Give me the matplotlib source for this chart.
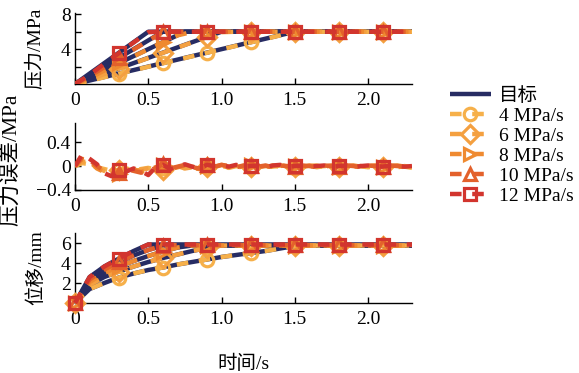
import numpy as np
import matplotlib
matplotlib.use("Agg")
import matplotlib.pyplot as plt

plt.rcParams['font.family'] = ['Liberation Serif', 'Noto Sans CJK SC']
plt.rcParams['font.size'] = 14

# ---------------- data ----------------
labels = ['4 MPa/s', '6 MPa/s', '8 MPa/s', '10 MPa/s', '12 MPa/s']
colors = ['#F6B04A', '#F4A040', '#EF8A30', '#E3612B', '#D2352E']
markers = ['o', 'D', '>', '^', 's']
navy = '#272C63'

t_coarse = np.round(np.arange(0, 2.31, 0.1), 2)   # 24 samples
t_fine = np.round(np.arange(0, 2.301, 0.05), 2)   # 47 samples

# target pressure (ramp then hold) breakpoints
target_t = [[0, 1.5, 2.3], [0, 1.0, 2.3], [0, 0.75, 2.3], [0, 0.6, 2.3], [0, 0.5, 2.3]]
target_p = [0, 6, 6]

# measured pressure, MPa
p4 = [0, 0.35, 0.78, 1.18, 1.58, 1.98, 2.38, 2.78, 3.18, 3.58, 3.98, 4.38,
      4.78, 5.18, 5.58, 5.95, 6.0, 6.0, 6.0, 6.0, 6.0, 6.0, 6.0, 6.0]
p6 = [0, 0.52, 1.15, 1.77, 2.38, 2.98, 3.58, 4.18, 4.78, 5.38, 5.95, 6.0,
      6.0, 6.0, 6.0, 6.0, 6.0, 6.0, 6.0, 6.0, 6.0, 6.0, 6.0, 6.0]
p8 = [0, 0.70, 1.55, 2.36, 3.17, 3.98, 4.78, 5.58, 5.98, 6.0, 6.0, 6.0,
      6.0, 6.0, 6.0, 6.0, 6.0, 6.0, 6.0, 6.0, 6.0, 6.0, 6.0, 6.0]
p10 = [0, 0.90, 1.93, 2.95, 3.96, 4.97, 5.96, 6.0, 6.0, 6.0, 6.0, 6.0,
       6.0, 6.0, 6.0, 6.0, 6.0, 6.0, 6.0, 6.0, 6.0, 6.0, 6.0, 6.0]
p12 = [0, 1.05, 2.33, 3.55, 4.76, 5.95, 6.02, 6.0, 6.0, 6.0, 6.0, 6.0,
       6.0, 6.0, 6.0, 6.0, 6.0, 6.0, 6.0, 6.0, 6.0, 6.0, 6.0, 6.0]
pressure = [p4, p6, p8, p10, p12]

# pressure error, MPa
e4 = [0.00, 0.05, 0.03, -0.02, -0.05, -0.08, -0.06, -0.04, -0.07, -0.05,
      -0.03, -0.06, -0.04, -0.02, -0.05, -0.03, -0.01, -0.04, -0.02, -0.03,
      -0.01, -0.03, 0.00, -0.02, -0.01, -0.03, -0.02, -0.01, 0.01, -0.02,
      -0.04, -0.01, 0.01, -0.02, 0.00, -0.01, -0.02, 0.01, -0.01, 0.00,
      -0.02, 0.00, -0.01, 0.01, -0.02, -0.01, -0.03]
e6 = [0.00, 0.08, 0.05, -0.03, -0.08, -0.10, -0.07, -0.05, -0.09, -0.06,
      -0.04, -0.02, -0.06, -0.03, 0.00, -0.04, -0.02, -0.05, -0.01, -0.03,
      0.00, -0.02, 0.01, -0.03, -0.01, 0.00, -0.02, 0.01, -0.01, -0.03,
      -0.02, 0.00, -0.01, 0.01, -0.02, 0.00, -0.01, 0.02, -0.01, 0.00,
      -0.02, 0.01, -0.01, 0.00, -0.02, 0.00, -0.02]
e8 = [0.00, 0.12, 0.08, -0.04, -0.10, -0.12, -0.14, -0.07, -0.05, -0.10,
      -0.06, -0.02, 0.02, -0.05, -0.02, 0.01, -0.03, -0.05, 0.00, -0.02,
      0.02, -0.01, -0.03, 0.00, 0.01, -0.02, 0.00, -0.01, 0.02, -0.01,
      0.00, -0.02, 0.01, 0.00, -0.01, 0.01, -0.02, 0.00, 0.01, -0.01,
      0.00, 0.01, -0.02, 0.00, 0.01, -0.01, -0.02]
e10 = [0.00, 0.15, 0.10, 0.00, -0.08, -0.13, -0.12, -0.05, -0.08, -0.11,
       -0.09, -0.03, 0.03, -0.04, -0.01, 0.02, -0.02, -0.04, 0.01, -0.01,
       0.02, 0.00, -0.02, 0.01, 0.00, -0.01, 0.01, -0.02, 0.01, 0.00,
       -0.01, 0.01, 0.00, -0.02, 0.01, 0.00, -0.01, 0.01, 0.00, -0.02,
       0.01, 0.00, -0.01, 0.01, 0.00, -0.01, -0.01]
e12 = [0.00, 0.20, 0.12, 0.03, -0.12, -0.17, -0.06, -0.09, -0.04, -0.08,
       -0.15, -0.02, 0.02, -0.05, -0.01, 0.03, -0.01, -0.04, 0.02, 0.00,
       0.01, -0.01, 0.02, -0.01, 0.00, 0.01, -0.02, 0.01, 0.02, -0.01,
       0.00, 0.01, -0.01, 0.00, 0.01, -0.01, 0.00, 0.01, -0.02, 0.00,
       0.01, 0.00, -0.01, 0.01, 0.00, -0.01, 0.00]
errors = [e4, e6, e8, e10, e12]

# displacement, mm
d4 = [0, 1.40, 2.00, 2.55, 2.95, 3.30, 3.55, 3.85, 4.10, 4.35, 4.60, 4.80,
      5.00, 5.20, 5.45, 5.70, 5.75, 5.75, 5.75, 5.75, 5.75, 5.75, 5.75, 5.75]
d6 = [0, 1.80, 2.60, 3.15, 3.65, 4.10, 4.50, 4.85, 5.20, 5.50, 5.75, 5.75,
      5.75, 5.75, 5.75, 5.75, 5.75, 5.75, 5.75, 5.75, 5.75, 5.75, 5.75, 5.75]
d8 = [0, 2.10, 3.00, 3.65, 4.20, 4.70, 5.15, 5.55, 5.75, 5.75, 5.75, 5.75,
      5.75, 5.75, 5.75, 5.75, 5.75, 5.75, 5.75, 5.75, 5.75, 5.75, 5.75, 5.75]
d10 = [0, 2.35, 3.35, 4.10, 4.75, 5.30, 5.75, 5.80, 5.80, 5.80, 5.80, 5.80,
       5.80, 5.80, 5.80, 5.80, 5.80, 5.80, 5.80, 5.80, 5.80, 5.80, 5.80, 5.80]
d12 = [0, 2.60, 3.65, 4.45, 5.20, 5.85, 5.85, 5.85, 5.85, 5.85, 5.85, 5.85,
       5.85, 5.85, 5.85, 5.85, 5.85, 5.85, 5.85, 5.85, 5.85, 5.85, 5.85, 5.85]
displacement = [d4, d6, d8, d10, d12]

# ---------------- figure ----------------
W, H = 579, 373
fig = plt.figure(figsize=(W / 100, H / 100), dpi=100)

def box(x0, y_top, x1, y_bot):
    return [x0 / W, 1 - y_bot / H, (x1 - x0) / W, (y_bot - y_top) / H]

ax1 = fig.add_axes(box(75, 13, 412, 84))
ax2 = fig.add_axes(box(75, 123, 412, 190))
ax3 = fig.add_axes(box(75, 233, 412, 303))

LW = 3.2
dash = (2.6, 2.4)
ms = 9
mew = 2.3

# top: pressure
h_target = None
for tt in target_t:
    h_target, = ax1.plot(tt, target_p, color=navy, lw=LW, solid_capstyle='butt', zorder=2)
handles = []
for i in range(5):
    h, = ax1.plot(t_coarse, pressure[i], color=colors[i], lw=LW, dashes=dash,
                  marker=markers[i], ms=ms, mfc='none', mec=colors[i], mew=mew,
                  markevery=slice(3, None, 3), zorder=3 + i)
    handles.append(h)

# middle: error
for i in range(5):
    ax2.plot(t_fine, errors[i], color=colors[i], lw=LW, dashes=dash,
             marker=markers[i], ms=ms, mfc='none', mec=colors[i], mew=mew,
             markevery=slice(6, None, 6), zorder=3 + i)

# bottom: displacement
for i in range(5):
    ax3.plot(t_coarse, displacement[i], color=navy, lw=LW, zorder=2)
for i in range(5):
    ax3.plot(t_coarse, displacement[i], color=colors[i], lw=LW, dashes=dash,
             marker=markers[i], ms=ms, mfc='none', mec=colors[i], mew=mew,
             markevery=slice(0, None, 3), zorder=3 + i, clip_on=False)

for ax in (ax1, ax2, ax3):
    ax.set_xlim(0, 2.3)
    ax.spines['top'].set_visible(False)
    ax.spines['right'].set_visible(False)
    ax.spines['left'].set_linewidth(1.0)
    ax.spines['bottom'].set_linewidth(1.0)
    ax.set_xticks([0, 0.5, 1.0, 1.5, 2.0])
    ax.set_xticklabels(['0', '0.5', '1.0', '1.5', '2.0'])
    ax.tick_params(direction='in', length=4, width=1, labelsize=14)
    ax.tick_params(axis='x', pad=6)
    ax.tick_params(axis='y', pad=3)

ax1.set_ylim(0, 8.15)
ax1.set_yticks([2, 4, 6, 8])
ax1.set_yticklabels(['', '4', '', '8'])
ax1.set_ylabel('压力/MPa', fontsize=14)

ax2.set_ylim(-0.4, 0.72)
ax2.set_yticks([-0.4, 0, 0.4])
ax2.set_yticklabels(['\u22120.4', '0', '0.4'])
ax2.set_ylabel('压力误差/MPa', fontsize=15.5)

ax3.set_ylim(0, 7)
ax3.set_yticks([2, 4, 6])
ax3.set_yticklabels(['2', '4', '6'])
ax3.set_ylabel('位移/mm', fontsize=14)
ax3.set_xlabel('时间/s', fontsize=14, labelpad=19)

ax1.yaxis.set_label_coords(-30 / 337, 0.5)
ax3.yaxis.set_label_coords(-30 / 337, 0.5)
ax2.yaxis.set_label_coords(-54 / 337, 0.45)

fig.legend([h_target] + handles, ['目标'] + labels,
           loc='upper left', bbox_to_anchor=(450 / W, 1 - 87 / H),
           frameon=False, fontsize=14, handlelength=2.1, handletextpad=0.4,
           labelspacing=0.12, borderpad=0, borderaxespad=0)

fig.savefig('out.png', dpi=100)
